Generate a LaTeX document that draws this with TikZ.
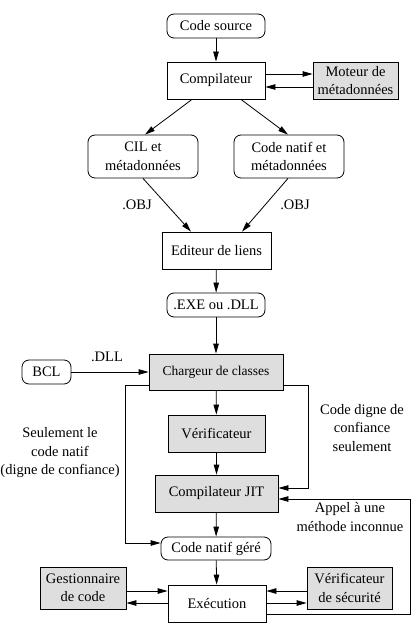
\documentclass[tikz,border=0pt]{standalone}
\usepackage{fontspec}
\setmainfont{Liberation Serif}
\usetikzlibrary{arrows.meta}
\begin{document}
\begin{tikzpicture}[x=1pt,y=-1pt,
  every node/.style={font=\fontsize{14.5}{18.5}\selectfont, align=center, inner sep=0pt},
  boxw/.style={draw, line width=0.8pt, fill=white},
  boxg/.style={draw, line width=0.8pt, fill=black!13},
  boxr/.style={draw, line width=0.8pt, fill=white, rounded corners=7pt},
  arr/.style={line width=0.8pt, -{Triangle[length=10pt,width=5.5pt]}},
  ln/.style={line width=0.8pt}]
\useasboundingbox (0,0) rectangle (415,626);
% nodes
\node[boxr, minimum width=98pt, minimum height=24pt] (cs) at (216,26) {Code source};
\node[boxw, minimum width=98pt, minimum height=37pt] (comp) at (216,80.5) {Compilateur};
\node[boxg, minimum width=85pt, minimum height=37pt] (mot) at (355.5,80.5) {Moteur de\\métadonnées};
\node[boxr, minimum width=110pt, minimum height=43pt] (cil) at (143,156.5) {CIL et\\métadonnées};
\node[boxr, minimum width=110pt, minimum height=43pt] (nat) at (289,156.5) {Code natif et\\métadonnées};
\node[boxw, minimum width=109pt, minimum height=37pt] (edit) at (216.5,250.5) {Editeur de liens};
\node[boxr, minimum width=98pt, minimum height=24pt] (exe) at (216,305) {.EXE ou .DLL};
\node[boxg, minimum width=134pt, minimum height=36pt, font=\fontsize{13.5}{17}\selectfont] (charg) at (216,372) {Chargeur de classes};
\node[boxr, minimum width=49pt, minimum height=24pt] (bcl) at (46.5,372) {BCL};
\node[boxg, minimum width=97pt, minimum height=37pt] (verif) at (216.5,433.5) {Vérificateur};
\node[boxg, minimum width=123pt, minimum height=37pt] (jit) at (216.5,493.5) {Compilateur JIT};
\node[boxr, minimum width=110pt, minimum height=23pt] (cng) at (216,548.5) {Code natif géré};
\node[boxw, minimum width=98pt, minimum height=37pt] (exec) at (217,603.5) {Exécution};
\node[boxg, minimum width=86pt, minimum height=42pt] (gest) at (83,588) {Gestionnaire\\de code};
\node[boxg, minimum width=85pt, minimum height=42pt] (vds) at (349.5,588) {Vérificateur\\de sécurité};
% labels
\node (obj1) at (137,205) {.OBJ};
\node (obj2) at (295,205) {.OBJ};
\node (dll) at (107,357) {.DLL};
\node (lbr) at (362,428) {Code digne de\\confiance\\seulement};
\node (lbl) at (60,453) {Seulement le\\code natif\\(digne de confiance)};
\node (lba) at (350,517) {Appel à une\\méthode inconnue};
% coordinates
\coordinate (lc1) at (125,385);
\coordinate (lc2) at (125,543);
\coordinate (rc1) at (308,385);
\coordinate (rc2) at (308,488);
\coordinate (bc1) at (410,614);
\coordinate (bc2) at (410,499);
\coordinate (eu) at (217,591);
\coordinate (ed) at (217,603);
% connectors
\draw[arr] (cs) -- (comp);
\draw[arr] ([yshift=6.5pt]comp.east) -- ([yshift=6.5pt]mot.west);
\draw[arr] ([yshift=-6.5pt]mot.west) -- ([yshift=-6.5pt]comp.east);
\draw[arr] ([xshift=-24pt]comp.south) -- ([xshift=2pt]cil.north);
\draw[arr] ([xshift=25pt]comp.south) -- ([xshift=-1pt]nat.north);
\draw[arr] (cil.south) -- ([xshift=-25.5pt]edit.north);
\draw[arr] ([xshift=-1pt]nat.south) -- ([xshift=25.5pt]edit.north);
\draw[arr] (edit) -- (exe);
\draw[arr] (exe) -- (charg);
\draw[arr] (bcl) -- (charg);
\draw[arr] (charg) -- (verif);
\draw[arr] (verif) -- (jit);
\draw[arr] (jit) -- (cng);
\draw[arr] (cng) -- (exec);
\draw[arr] (charg.west |- lc1) -- (lc1) -- (lc2) -- (cng.west |- lc2);
\draw[arr] (charg.east |- rc1) -- (rc1) -- (rc2) -- (jit.east |- rc2);
\draw[arr] (exec.east |- bc1) -- (bc1) -- (bc2) -- (jit.east |- bc2);
\draw[arr] (gest.east |- eu) -- (exec.west |- eu);
\draw[arr] (exec.west |- ed) -- (gest.east |- ed);
\draw[arr] (vds.west |- eu) -- (exec.east |- eu);
\draw[arr] (exec.east |- ed) -- (vds.west |- ed);
\end{tikzpicture}
\end{document}
